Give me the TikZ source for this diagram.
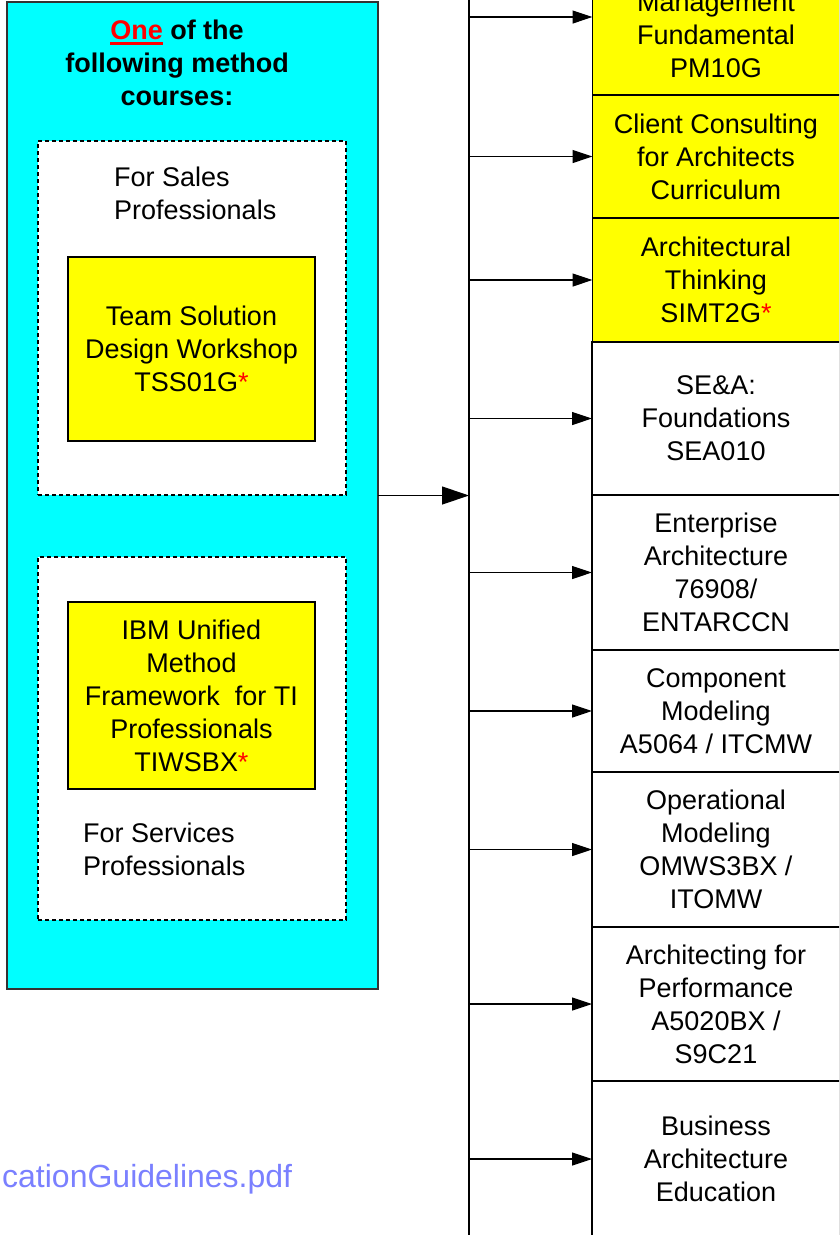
\documentclass[tikz,border=0pt]{standalone}
\usepackage{fontspec}
\setmainfont{Liberation Sans}
\usetikzlibrary{arrows.meta}
\definecolor{linkblue}{RGB}{122,128,255}
\definecolor{methodcyan}{RGB}{0,255,255}
\definecolor{coreyellow}{RGB}{255,255,0}
\newcommand\redunder[1]{\textcolor{red}{\setbox0\hbox{#1}%
  \rlap{\vrule width\wd0 height -2.5pt depth 5.5pt}\box0}}
\tikzset{%
  course/.style = {shape=rectangle, draw=black, line width=1.2pt,%
                   fill=white, align=center, minimum width=248pt,%
                   outer sep=0pt, inner sep=0pt},%
  core/.style   = {course, fill=coreyellow, minimum width=247pt},%
  track/.style  = {shape=rectangle, draw=black, line width=1.2pt,%
                   dash pattern=on 4pt off 3pt, fill=white,%
                   minimum width=308pt, outer sep=0pt},%
  feed/.style   = {-{Triangle[length=20pt,width=13pt]}, line width=1.2pt}%
}

\begin{document}
\begin{tikzpicture}[x=1pt,y=-1pt,
every node/.style = {font=\fontsize{27}{33}\selectfont}]
	\useasboundingbox (0,0) rectangle (839,1235);
	\clip (0,0) rectangle (839,1235);
	% left: method courses
	\node [draw=black!80, line width=1.5pt, fill=methodcyan, outer sep=0pt,
		minimum width=371pt, minimum height=987pt] (methods) at (192.5,495.5) {};
	\node [align=center, font=\bfseries\fontsize{27}{33}\selectfont] (title) at (177,63)
		{\redunder{One} of the\\following method\\courses:};
	\node [track, minimum height=354pt] (salesbox) at (192,318) {};
	\node [track, minimum height=363pt] (servbox) at (192,738.5) {};
	\node [anchor=west, align=left, inner sep=0pt] (sales) at (114,193.5) {For Sales\\Professionals};
	\node [core, minimum height=184pt] (tss) at (191.5,349)
		{Team Solution\\Design Workshop\\TSS01G\textcolor{red}{*}};
	\node [core, minimum height=187pt] (tiwsbx) at (191.5,695.5)
		{IBM Unified\\Method\\Framework~ for TI\\Professionals\\TIWSBX\textcolor{red}{*}};
	\node [anchor=west, align=left, inner sep=0pt] (serv) at (83,849.5) {For Services\\Professionals};
	% right: course column
	\node [core, minimum height=156pt] (pm) at (716,17) {\strut\\Management\\Fundamental\\PM10G};
	\node [core, minimum height=123pt] (cca) at (716,156.5) {Client Consulting\\for Architects\\Curriculum};
	\node [core, minimum height=124pt] (simt) at (716,280) {Architectural\\Thinking\\SIMT2G\textcolor{red}{*}};
	\node [course, minimum height=153pt] (sea) at (716,418.5) {SE\&A:\\Foundations\\SEA010};
	\node [course, minimum height=155pt] (ea) at (716,572.5) {Enterprise\\Architecture\\76908/\\ENTARCCN};
	\node [course, minimum height=122pt] (comp) at (716,711) {Component\\Modeling\\A5064 / ITCMW};
	\node [course, minimum height=155pt] (oper) at (716,849.5) {Operational\\Modeling\\OMWS3BX /\\ITOMW};
	\node [course, minimum height=154pt] (perf) at (716,1004) {Architecting for\\Performance\\A5020BX /\\S9C21};
	\node [course, minimum height=156pt] (bae) at (716,1159) {Business\\Architecture\\Education};
	% bus and arrows
	\coordinate (bustop) at (469,-70);
	\coordinate (busbot) at (469,1250);
	\draw [line width=1.2pt] (bustop) -- (busbot);
	\foreach \c in {pm,cca,simt,sea,ea,comp,oper,perf,bae}
		\draw [feed] (\c.west -| bustop) -- (\c.west);
	\draw [-{Triangle[length=27pt,width=18pt]}, line width=1.2pt] (methods.east) -- (methods.east -| bustop);
	\node [anchor=base west, inner sep=0pt, text=linkblue,
		font=\fontsize{32}{38}\selectfont] (pdfref) at (2,1187) {cationGuidelines.pdf};
\end{tikzpicture}
\end{document}
